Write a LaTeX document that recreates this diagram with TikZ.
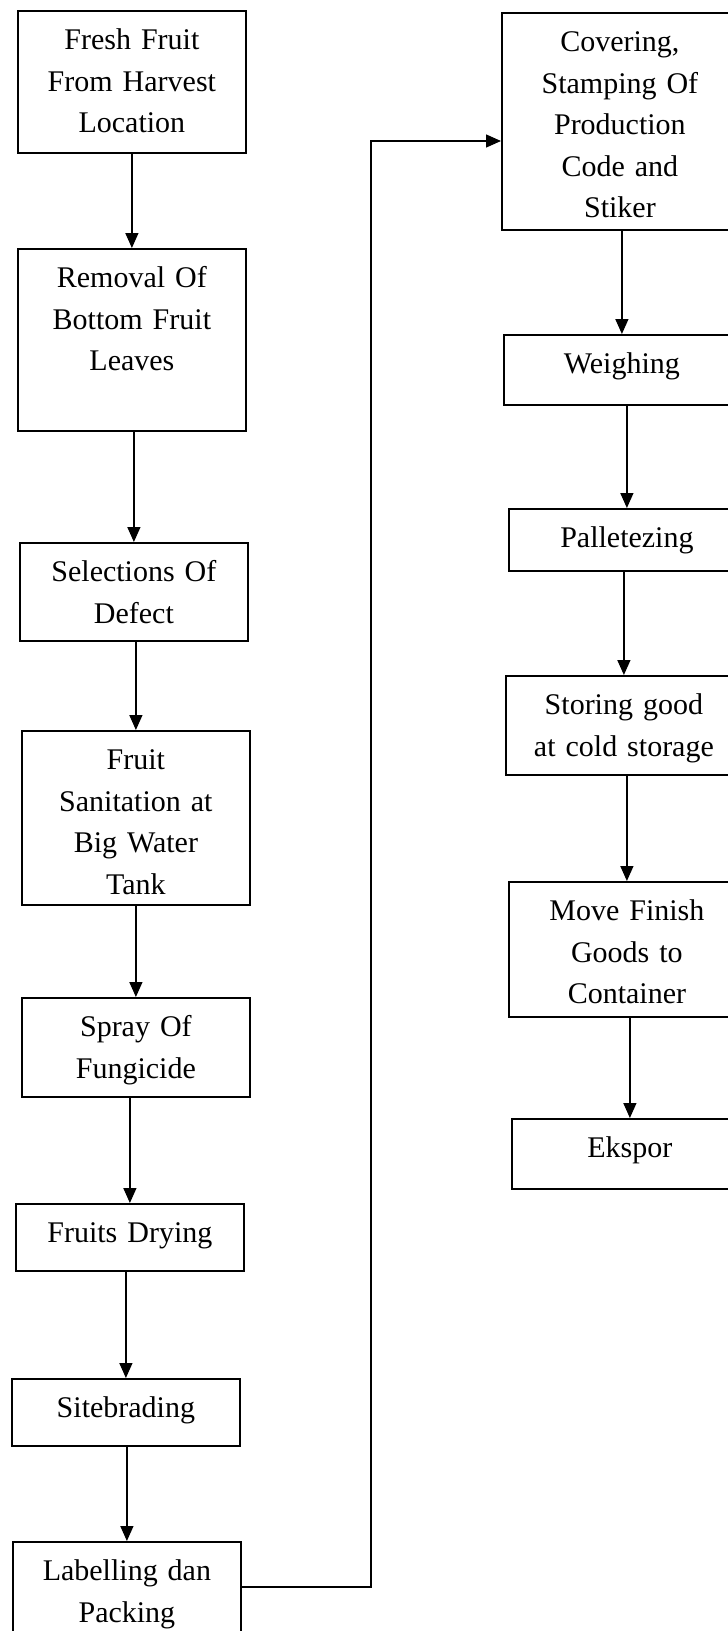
\documentclass[tikz,border=0pt]{standalone}
\usepackage{fontspec}
\setmainfont{Liberation Serif}
\usetikzlibrary{arrows.meta}

\begin{document}
\begin{tikzpicture}[x=1pt,y=-1pt,>={Triangle[length=15pt,width=13pt]},
  stepbox/.style={draw,line width=1.8pt,rectangle,inner sep=0pt,align=center,
    anchor=north west,text height=39pt,font=\fontsize{30}{41.5}\selectfont},
  leftbox/.style={stepbox,text width=228pt},
  rightbox/.style={stepbox,text width=236pt},
  flow/.style={->,line width=1.4pt}]
\useasboundingbox (0,0) rectangle (728,1631);
% left column
\node[leftbox,text depth=103pt] (fresh) at (17,10) {Fresh Fruit\\From Harvest\\Location};
\node[leftbox,text depth=143pt] (removal) at (17,248) {Removal Of\\Bottom Fruit\\Leaves};
\node[leftbox,text depth=59pt] (select) at (19,542) {Selections Of\\Defect};
\node[leftbox,text depth=135pt] (sanit) at (21,730) {Fruit\\Sanitation at\\Big Water\\Tank};
\node[leftbox,text depth=60pt] (spray) at (21,997) {Spray Of\\Fungicide};
\node[leftbox,text depth=28pt] (drying) at (15,1203) {Fruits Drying};
\node[leftbox,text depth=28pt] (sitebr) at (11,1378) {Sitebrading};
\node[leftbox,text depth=80pt] (label) at (12,1541) {Labelling dan\\Packing};
% right column
\node[rightbox,text depth=178pt] (cover) at (501,12) {Covering,\\Stamping Of\\Production\\Code and\\Stiker};
\node[rightbox,text depth=31pt] (weigh) at (503,334) {Weighing};
\node[rightbox,text depth=23pt] (pallet) at (508,508) {Palletezing};
\node[rightbox,text depth=60pt] (store) at (505,675) {Storing good\\at cold storage};
\node[rightbox,text depth=96pt] (move) at (508,881) {Move Finish\\Goods to\\Container};
\node[rightbox,text depth=31pt] (ekspor) at (511,1118) {Ekspor};
% arrows
\draw[flow] (removal.north |- fresh.south) -- (removal.north);
\draw[flow] (select.north |- removal.south) -- (select.north);
\draw[flow] (sanit.north |- select.south) -- (sanit.north);
\draw[flow] (spray.north |- sanit.south) -- (spray.north);
\draw[flow] (drying.north |- spray.south) -- (drying.north);
\draw[flow] (sitebr.north |- drying.south) -- (sitebr.north);
\draw[flow] (label.north |- sitebr.south) -- (label.north);
\coordinate (loopdown) at (371,1587);
\coordinate (loopup) at (371,141);
\draw[flow] (loopdown -| label.east) -- (loopdown) -- (loopup) -- (loopup -| cover.west);
\draw[flow] (weigh.north |- cover.south) -- (weigh.north);
\draw[flow] (pallet.north |- weigh.south) -- (pallet.north);
\draw[flow] (store.north |- pallet.south) -- (store.north);
\draw[flow] (move.north |- store.south) -- (move.north);
\draw[flow] (ekspor.north |- move.south) -- (ekspor.north);
\end{tikzpicture}
\end{document}
